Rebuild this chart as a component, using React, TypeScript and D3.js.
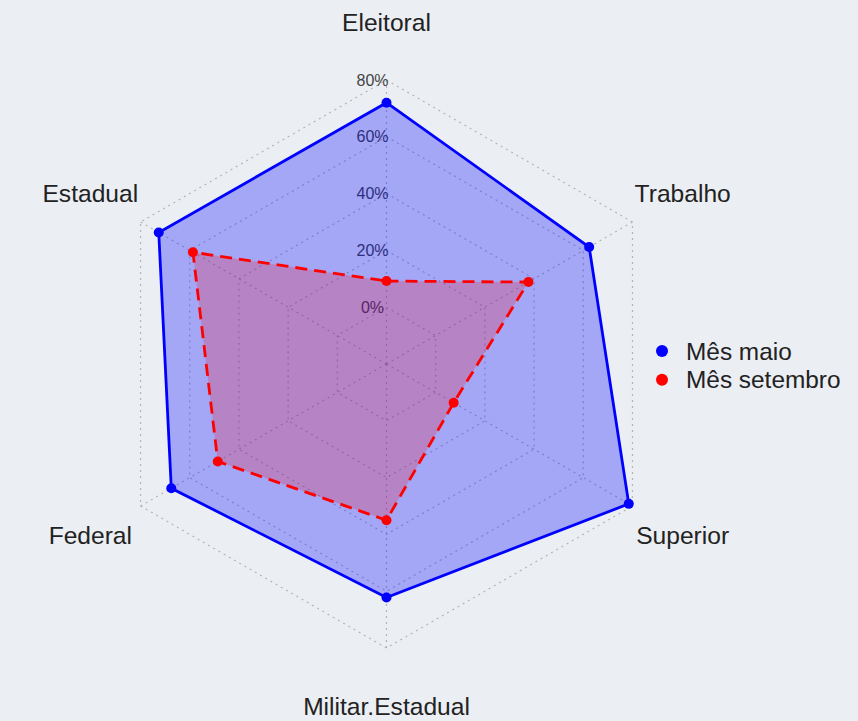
import { useEffect, useRef } from "react";
import * as d3 from "d3";

// axes go clockwise starting from the top
const axes = ["Eleitoral", "Trabalho", "Superior", "Militar.Estadual", "Federal", "Estadual"];
const maio = [72.0, 62.4, 78.5, 62.2, 67.5, 72.6];
const setembro = [9.2, 37.7, 7.3, 35.0, 48.6, 58.7];
const ringTicks = [0, 20, 40, 60, 80];
const seriesNames = ["Mês maio", "Mês setembro"];

export default function App() {
  const svgRef = useRef<SVGSVGElement>(null);

  useEffect(() => {
    const svg = d3.select(svgRef.current);
    svg.selectAll("*").remove();

    const width = 858;
    const height = 721;
    const cx = 386.5;
    const cy = 364;
    const font = "'Liberation Sans', Arial, Helvetica, sans-serif";

    const r = d3.scaleLinear().domain([0, 80]).range([56.8, 284]);
    const angle = d3
      .scaleLinear()
      .domain([0, axes.length])
      .range([0, 2 * Math.PI]);

    const pt = (i: number, rad: number): [number, number] => [
      Math.sin(angle(i)) * rad,
      -Math.cos(angle(i)) * rad,
    ];

    svg.append("rect").attr("width", width).attr("height", height).attr("fill", "#ebeef3");

    const g = svg.append("g").attr("transform", `translate(${cx},${cy})`);

    // grid rings
    const ringLine = d3.line<[number, number]>().curve(d3.curveLinearClosed);
    g.selectAll("path.ring")
      .data(ringTicks)
      .enter()
      .append("path")
      .attr("class", "ring")
      .attr("d", t => ringLine(axes.map((_, i) => pt(i, r(t)))))
      .attr("fill", "none")
      .attr("stroke", "#b4b4b4")
      .attr("stroke-width", 1.2)
      .attr("stroke-dasharray", "2,4");

    // spokes
    g.selectAll("line.spoke")
      .data(axes)
      .enter()
      .append("line")
      .attr("class", "spoke")
      .attr("x1", 0)
      .attr("y1", 0)
      .attr("x2", (_, i) => pt(i, r(80))[0])
      .attr("y2", (_, i) => pt(i, r(80))[1])
      .attr("stroke", "#b4b4b4")
      .attr("stroke-width", 1.2)
      .attr("stroke-dasharray", "2,4");

    // ring labels (drawn under the polygons)
    g.selectAll("text.tick")
      .data(ringTicks)
      .enter()
      .append("text")
      .attr("class", "tick")
      .attr("x", -14)
      .attr("y", t => -r(t))
      .attr("dy", "0.35em")
      .attr("text-anchor", "middle")
      .attr("font-family", font)
      .attr("font-size", 16)
      .attr("fill", "#444")
      .text(t => `${t}%`);

    // axis labels
    g.selectAll("text.axis")
      .data(axes)
      .enter()
      .append("text")
      .attr("class", "axis")
      .attr("x", (_, i) => pt(i, 342)[0])
      .attr("y", (_, i) => pt(i, 342)[1])
      .attr("dy", "0.36em")
      .attr("text-anchor", "middle")
      .attr("font-family", font)
      .attr("font-size", 24.6)
      .attr("fill", "#222")
      .text(d => d);

    const series = [
      { name: seriesNames[0], values: maio, color: "#0000ff", alpha: 0.3, dash: null },
      { name: seriesNames[1], values: setembro, color: "#ff0000", alpha: 0.2, dash: "12,7" },
    ];

    series.forEach(s => {
      const pts = s.values.map((v, i) => pt(i, r(v)));
      g.append("path")
        .attr("d", ringLine(pts))
        .attr("fill", s.color)
        .attr("fill-opacity", s.alpha)
        .attr("stroke", s.color)
        .attr("stroke-width", 2.8)
        .attr("stroke-dasharray", s.dash);
      g.selectAll(null)
        .data(pts)
        .enter()
        .append("circle")
        .attr("cx", d => d[0])
        .attr("cy", d => d[1])
        .attr("r", 5)
        .attr("fill", s.color);
    });

    // legend
    const legend = svg.append("g").attr("transform", "translate(662, 351)");
    const items = legend
      .selectAll("g")
      .data(series)
      .enter()
      .append("g")
      .attr("transform", (_, i) => `translate(0, ${i * 28.7})`);
    items.append("circle").attr("r", 6).attr("fill", d => d.color);
    items
      .append("text")
      .attr("x", 24)
      .attr("dy", "0.36em")
      .attr("font-family", font)
      .attr("font-size", 24.4)
      .attr("fill", "#222")
      .text(d => d.name);
  }, []);

  return (
    <svg
      ref={svgRef}
      width={858}
      height={721}
      style={{ position: "absolute", left: 0, top: 0, display: "block" }}
    />
  );
}
